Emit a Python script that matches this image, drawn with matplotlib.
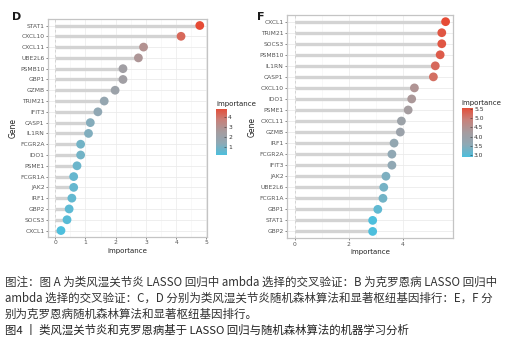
import numpy as np
import matplotlib
matplotlib.use('Agg')
import matplotlib.pyplot as plt
from matplotlib.colors import LinearSegmentedColormap, Normalize

plt.rcParams['font.family'] = ['DejaVu Sans']

# panel D (rheumatoid arthritis) - top to bottom
genes_d = ['STAT1', 'CXCL10', 'CXCL11', 'UBE2L6', 'PSMB10', 'GBP1', 'GZMB', 'TRIM21',
           'IFIT3', 'CASP1', 'IL1RN', 'FCGR2A', 'IDO1', 'PSME1', 'FCGR1A', 'JAK2',
           'IRF1', 'GBP2', 'SOCS3', 'CXCL1']
imp_d = [4.78, 4.16, 2.92, 2.75, 2.24, 2.24, 1.98, 1.62, 1.41, 1.16, 1.10, 0.84,
         0.84, 0.72, 0.61, 0.61, 0.55, 0.46, 0.39, 0.19]
ticks_d = [0, 1, 2, 3, 4, 5]
cbar_ticks_d = [1, 2, 3, 4]

# panel F (Crohn's disease)
genes_f = ['CXCL1', 'TRIM21', 'SOCS3', 'PSMB10', 'IL1RN', 'CASP1', 'CXCL10', 'IDO1',
           'PSME1', 'CXCL11', 'GZMB', 'IRF1', 'FCGR2A', 'IFIT3', 'JAK2', 'UBE2L6',
           'FCGR1A', 'GBP1', 'STAT1', 'GBP2']
imp_f = [5.57, 5.43, 5.43, 5.37, 5.19, 5.12, 4.42, 4.32, 4.19, 3.94, 3.90, 3.67,
         3.59, 3.59, 3.37, 3.29, 3.26, 3.07, 2.88, 2.88]
ticks_f = [0, 2, 4]
cbar_ticks_f = [3.0, 3.5, 4.0, 4.5, 5.0, 5.5]

caption = [
    '图注：图 A 为类风湿关节炎 LASSO 回归中 ambda 选择的交叉验证：B 为克罗恩病 LASSO 回归中',
    'ambda 选择的交叉验证：C，D 分别为类风湿关节炎随机森林算法和显著枢纽基因排行：E，F 分',
    '别为克罗恩病随机森林算法和显著枢纽基因排行。',
]
title = '图4 丨 类风湿关节炎和克罗恩病基于 LASSO 回归与随机森林算法的机器学习分析'

cmap = LinearSegmentedColormap.from_list(
    'imp', ['#4DBFDD', '#8FA9B5', '#A69C9F', '#C9817A', '#E64B35'])


def lollipop(ax, cax, genes, imp, ticks, cticks, fmt):
    n = len(genes)
    y = np.arange(n)[::-1]
    vals = np.array(imp)
    norm = Normalize(vals.min(), vals.max())
    for g in ticks:
        ax.axvline(g, color='#EBEBEB', lw=0.6, zorder=0)
    for g in np.arange(ticks[0], ticks[-1] + 1, (ticks[1] - ticks[0]) / 2):
        ax.axvline(g, color='#F3F3F3', lw=0.4, zorder=0)
    for yy in y:
        ax.axhline(yy, color='#EBEBEB', lw=0.6, zorder=0)
    ax.axvline(0, color='#D0D0D0', lw=0.6, ls=(0, (3, 3)), zorder=0.5)
    ax.hlines(y, 0, vals, color='#D3D3D3', lw=2.4, zorder=1)
    ax.scatter(vals, y, c=vals, cmap=cmap, norm=norm, s=40, zorder=2, edgecolors='none')
    xmax = vals.max()
    ax.set_xlim(-0.05 * xmax, xmax * 1.05)
    ax.set_ylim(-0.6, n - 0.4)
    ax.set_yticks(y)
    ax.set_yticklabels(genes)
    ax.set_xticks(ticks)
    ax.tick_params(labelsize=4.3, colors='#555555', length=1.5, width=0.5, pad=1)
    for s in ax.spines.values():
        s.set_color('#C4C4C4')
        s.set_linewidth(0.9)
    ax.set_xlabel('importance', fontsize=5, color='#222222', labelpad=2)
    ax.set_ylabel('Gene', fontsize=5.5, color='#222222', labelpad=2)

    grad = np.linspace(vals.min(), vals.max(), 256).reshape(-1, 1)
    cax.imshow(grad, aspect='auto', cmap=cmap, norm=norm, origin='lower',
               extent=[0, 1, vals.min(), vals.max()])
    cax.set_xticks([])
    cax.yaxis.tick_right()
    cax.set_yticks(cticks)
    cax.set_yticklabels([fmt.format(t) for t in cticks])
    cax.tick_params(axis='y', labelsize=4.3, colors='#333333', length=1.5,
                    width=0.4, pad=1.5, direction='in')
    for s in cax.spines.values():
        s.set_visible(False)
    cax.set_title('importance', fontsize=5, color='#222222', loc='left', pad=2)


fig = plt.figure(figsize=(5.08, 3.46), dpi=100)

ax_d = fig.add_axes([0.0945, 0.315, 0.313, 0.630])
cax_d = fig.add_axes([0.425, 0.552, 0.020, 0.133])
lollipop(ax_d, cax_d, genes_d, imp_d, ticks_d, cbar_ticks_d, '{:d}')

ax_f = fig.add_axes([0.565, 0.312, 0.327, 0.6445])
cax_f = fig.add_axes([0.909, 0.546, 0.020, 0.142])
lollipop(ax_f, cax_f, genes_f, imp_f, ticks_f, cbar_ticks_f, '{:.1f}')

fig.text(0.024, 0.952, 'D', fontsize=8, fontweight='bold', color='#1a1a1a', va='center')
fig.text(0.506, 0.952, 'F', fontsize=8, fontweight='bold', color='#1a1a1a', va='center')

cjk = ['Noto Sans CJK SC', 'DejaVu Sans']
for i, line in enumerate(caption):
    fig.text(0.01, 1 - (282 + 16 * i) / 346, line, fontsize=8.3, family=cjk,
             color='#333333', va='center')
fig.text(0.01, 1 - 330 / 346, title, fontsize=8.2, family=cjk, color='#222222',
         va='center', fontweight='medium')

fig.savefig('out.png', dpi=100)
